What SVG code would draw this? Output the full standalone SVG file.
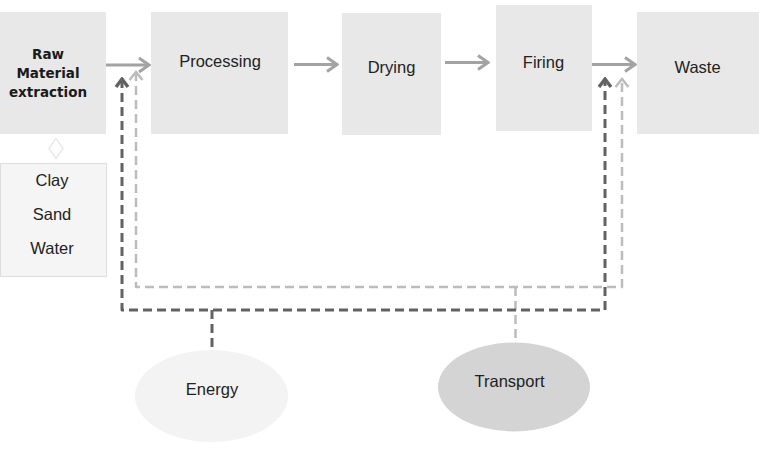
<svg xmlns="http://www.w3.org/2000/svg" width="764" height="466" viewBox="0 0 764 466">
<style>
.box{fill:#e8e8e8;stroke:none}
.t{font-family:"Liberation Sans",Arial,sans-serif;font-size:16.5px;fill:#222222;text-anchor:middle}
.tb{font-family:"DejaVu Sans",Verdana,sans-serif;font-size:13.5px;font-weight:bold;fill:#1a1a1a;text-anchor:middle}
.flow{fill:none;stroke:#a3a3a3;stroke-width:3}
.dark{fill:none;stroke:#626262;stroke-width:3;stroke-dasharray:9 5;stroke-linejoin:round}
.light{fill:none;stroke:#bcbcbc;stroke-width:2.5;stroke-dasharray:9 5;stroke-linejoin:round}
</style>
<defs>
<marker id="aFlow" markerUnits="userSpaceOnUse" viewBox="-12 -9 14 18" markerWidth="14" markerHeight="18" refX="0" refY="0" orient="auto">
<path d="M-10,-7 L0,0 L-10,7" fill="none" stroke="#a3a3a3" stroke-width="3"/>
</marker>
<marker id="aDark" markerUnits="userSpaceOnUse" viewBox="-12 -9 14 18" markerWidth="14" markerHeight="18" refX="0" refY="0" orient="auto-start-reverse">
<path d="M-8,-6 L0,0 L-8,6" fill="none" stroke="#626262" stroke-width="3.4"/>
</marker>
<marker id="aLight" markerUnits="userSpaceOnUse" viewBox="-12 -9 14 18" markerWidth="14" markerHeight="18" refX="0" refY="0" orient="auto-start-reverse">
<path d="M-8,-6.5 L0,0 L-8,6.5" fill="none" stroke="#bcbcbc" stroke-width="2.5"/>
</marker>
</defs>
<rect width="764" height="466" fill="#ffffff"/>

<g id="connectors">
<line class="flow" x1="106" y1="65" x2="149" y2="65" marker-end="url(#aFlow)"/>
<line class="flow" x1="294" y1="64.5" x2="337" y2="64.5" marker-end="url(#aFlow)"/>
<line class="flow" x1="445" y1="62.5" x2="488" y2="62.5" marker-end="url(#aFlow)"/>
<line class="flow" x1="592" y1="64.5" x2="635" y2="64.5" marker-end="url(#aFlow)"/>
<path class="light" d="M136,72 L136,287 L622,287 L622,79" marker-start="url(#aLight)" marker-end="url(#aLight)"/>
<line class="light" x1="515.5" y1="287" x2="515.5" y2="342"/>
<path class="dark" d="M122,79 L122,310 L605,310 L605,79" marker-start="url(#aDark)" marker-end="url(#aDark)"/>
<line class="dark" x1="212" y1="310" x2="212" y2="352"/>
</g>

<g id="raw-material">
<rect class="box" x="0" y="12" width="106" height="122"/>
<text class="tb" x="48" y="59">Raw</text>
<text class="tb" x="48" y="78">Material</text>
<text class="tb" x="48" y="96.5">extraction</text>
</g>
<g id="link-diamond">
<path d="M56,138.5 L63,148.5 L56,158.5 L49,148.5 Z" fill="#ffffff" stroke="#e2e2e2" stroke-width="1.2"/>
</g>
<g id="ingredients">
<rect x="0.5" y="163.5" width="106" height="113" fill="#f5f5f5" stroke="#dedede" stroke-width="1"/>
<text class="t" x="52" y="186">Clay</text>
<text class="t" x="52" y="220">Sand</text>
<text class="t" x="52" y="254">Water</text>
</g>
<g id="processing">
<rect class="box" x="151" y="12" width="137" height="122"/>
<text class="t" x="220" y="66.5">Processing</text>
</g>
<g id="drying">
<rect class="box" x="342" y="13" width="99" height="122"/>
<text class="t" x="391.5" y="72.5">Drying</text>
</g>
<g id="firing">
<rect class="box" x="496" y="5" width="96" height="126"/>
<text class="t" x="543.5" y="68">Firing</text>
</g>
<g id="waste">
<rect class="box" x="637" y="12" width="122" height="122"/>
<text class="t" x="697.5" y="72.5">Waste</text>
</g>
<g id="energy">
<ellipse cx="211.5" cy="396" rx="76.5" ry="46" fill="#f3f3f3"/>
<text class="t" x="212" y="395">Energy</text>
</g>
<g id="transport">
<ellipse cx="514" cy="387" rx="76" ry="44.5" fill="#d4d4d4"/>
<text class="t" x="509.5" y="387">Transport</text>
</g>
</svg>
